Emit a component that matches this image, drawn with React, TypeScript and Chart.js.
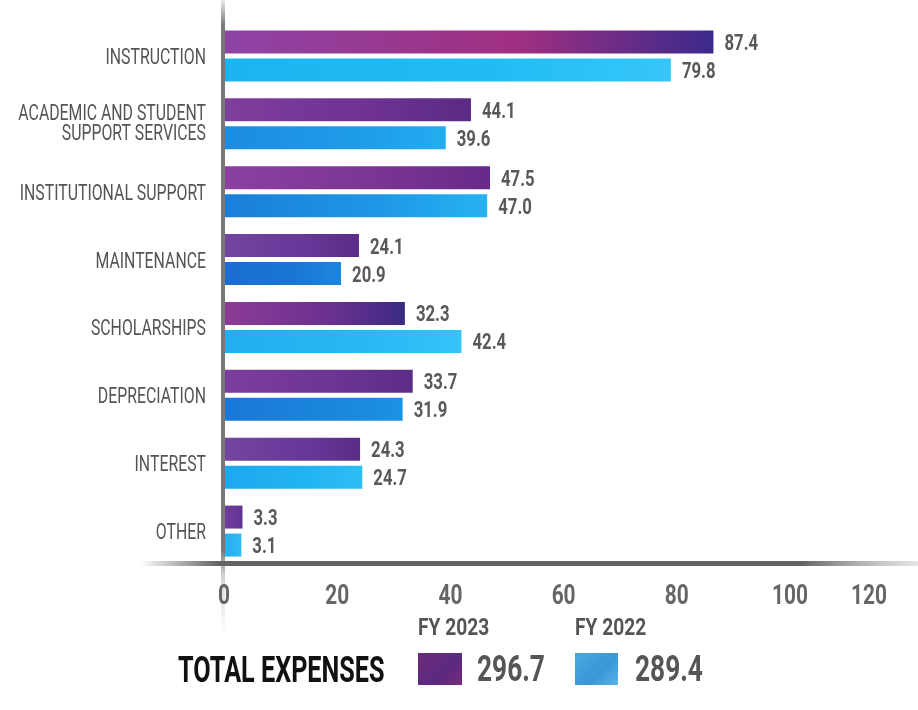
import React, { useEffect, useRef } from "react";
import { Chart, registerables } from "chart.js";

Chart.register(...registerables);

const categories: string[][] = [
  ["INSTRUCTION"],
  ["ACADEMIC AND STUDENT", "SUPPORT SERVICES"],
  ["INSTITUTIONAL SUPPORT"],
  ["MAINTENANCE"],
  ["SCHOLARSHIPS"],
  ["DEPRECIATION"],
  ["INTEREST"],
  ["OTHER"],
];
const fy2023 = [87.4, 44.1, 47.5, 24.1, 32.3, 33.7, 24.3, 3.3];
const fy2022 = [79.8, 39.6, 47.0, 20.9, 42.4, 31.9, 24.7, 3.1];
const xTicks = [0, 20, 40, 60, 80, 100, 120];
const totalLabel = "TOTAL EXPENSES";
const total2023 = "296.7";
const total2022 = "289.4";
const seriesNames = ["FY 2023", "FY 2022"];

const FONT = "Roboto, 'Liberation Sans', sans-serif";

const purpleStops: string[][] = [
  ["#8e44a6", "#a02f80", "#3b2a8c"],
  ["#7e3e9e", "#6e3292", "#5a2a84"],
  ["#8c40a2", "#7a3492", "#662a8a"],
  ["#7444a2", "#683898", "#5a2c88"],
  ["#8c3c96", "#6a3090", "#3a2a82"],
  ["#7c3e9e", "#6c3494", "#5c2c88"],
  ["#7444a2", "#683898", "#5a2c88"],
  ["#6e3c9c", "#6a3898", "#5e3090"],
];
const blueStops: string[][] = [
  ["#1cb4f0", "#22bcf4", "#36c6f8"],
  ["#1c8ce0", "#1e9ce8", "#24acf0"],
  ["#1a7ed8", "#1e98e6", "#26b2f2"],
  ["#1a6ed0", "#1a76d4", "#1c86dc"],
  ["#22aef0", "#28b8f4", "#34c4f8"],
  ["#1a78d6", "#1a86dc", "#1c92e2"],
  ["#1ca8ee", "#22b4f2", "#2ebef6"],
  ["#26b0f0", "#2ab6f2", "#30bcf4"],
];

function makeBg(stops: string[][], values: number[]) {
  return (ctx: any) => {
    const chart = ctx.chart;
    const ca = chart.chartArea;
    const i = ctx.dataIndex ?? 0;
    const s = stops[i % stops.length];
    if (!ca || !chart.scales.x) return s[1];
    const end = chart.scales.x.getPixelForValue(values[i]);
    const g = chart.ctx.createLinearGradient(ca.left, 0, Math.max(end, ca.left + 1), 0);
    g.addColorStop(0, s[0]);
    g.addColorStop(0.6, s[1]);
    g.addColorStop(1, s[2]);
    return g;
  };
}

function fillCond(ctx: CanvasRenderingContext2D, text: string, x: number, y: number, sx: number, align: CanvasTextAlign) {
  ctx.save();
  ctx.translate(x, y);
  ctx.scale(sx, 1);
  ctx.textAlign = align;
  ctx.textBaseline = "alphabetic";
  ctx.fillText(text, 0, 0);
  ctx.restore();
}

const decorPlugin = {
  id: "decor",
  afterDraw(chart: any) {
    const { ctx, chartArea: ca, scales } = chart;
    const x = scales.x;
    const y = scales.y;
    ctx.save();
    // vertical axis line
    const vx = x.getPixelForValue(0) - 1;
    const vg = ctx.createLinearGradient(0, 0, 0, 640);
    vg.addColorStop(0, "rgba(120,120,120,0.15)");
    vg.addColorStop(0.04, "rgba(120,120,120,1)");
    vg.addColorStop(0.86, "rgba(120,120,120,1)");
    vg.addColorStop(0.9, "rgba(200,200,200,0.8)");
    vg.addColorStop(1, "rgba(230,230,230,0)");
    ctx.fillStyle = vg;
    ctx.fillRect(vx - 2, 0, 4, 640);
    // horizontal axis line
    const hy = ca.bottom - 2;
    const hg = ctx.createLinearGradient(140, 0, 918, 0);
    hg.addColorStop(0, "rgba(100,100,100,0)");
    hg.addColorStop(0.1, "rgba(100,100,100,1)");
    hg.addColorStop(0.85, "rgba(100,100,100,1)");
    hg.addColorStop(1, "rgba(170,170,170,0.3)");
    ctx.fillStyle = hg;
    ctx.fillRect(140, hy - 2, 778, 5);

    // category labels
    ctx.font = `22px ${FONT}`;
    ctx.fillStyle = "#555555";
    categories.forEach((lines, i) => {
      const cy = y.getPixelForTick(i);
      if (lines.length === 1) {
        fillCond(ctx, lines[0], 206, cy + 8, 0.72, "right");
      } else {
        fillCond(ctx, lines[0], 206, cy - 3.5, 0.72, "right");
        fillCond(ctx, lines[1], 206, cy + 16, 0.72, "right");
      }
    });

    // tick labels
    ctx.font = `bold 28px ${FONT}`;
    ctx.fillStyle = "#666666";
    xTicks.forEach((t, k) => {
      let px = x.getPixelForValue(t);
      if (k === xTicks.length - 1) px -= 27;
      else px += t * 0.06;
      fillCond(ctx, String(t), px, ca.bottom + 39, 0.745, "center");
    });

    // value labels
    ctx.font = `bold 22px ${FONT}`;
    ctx.fillStyle = "#595959";
    chart.data.datasets.forEach((ds: any, di: number) => {
      const meta = chart.getDatasetMeta(di);
      meta.data.forEach((bar: any, i: number) => {
        fillCond(ctx, Number(ds.data[i]).toFixed(1), bar.x + 11, bar.y + 8, 0.76, "left");
      });
    });
    ctx.restore();
  },
};

export default function App() {
  const ref = useRef<HTMLCanvasElement | null>(null);
  useEffect(() => {
    if (!ref.current) return;
    const chart = new Chart(ref.current, {
      type: "bar",
      data: {
        labels: categories.map((c) => c.join(" ")),
        datasets: [
          {
            label: seriesNames[0],
            data: fy2023,
            backgroundColor: makeBg(purpleStops, fy2023) as any,
            barPercentage: 0.82,
            categoryPercentage: 0.825,
          },
          {
            label: seriesNames[1],
            data: fy2022,
            backgroundColor: makeBg(blueStops, fy2022) as any,
            barPercentage: 0.82,
            categoryPercentage: 0.825,
          },
        ],
      },
      options: {
        indexAxis: "y",
        responsive: false,
        animation: false,
        devicePixelRatio: 1,
        layout: { padding: { top: 22, bottom: 145, right: 22, left: 0 } },
        plugins: { legend: { display: false }, tooltip: { enabled: false } },
        scales: {
          x: {
            min: 0,
            max: 120,
            display: false,
          },
          y: {
            grid: { display: false },
            border: { display: false },
            ticks: { display: false },
            afterFit: (s: any) => {
              s.width = 224;
            },
          },
        },
      },
      plugins: [decorPlugin],
    });
    return () => chart.destroy();
  }, []);

  const legendText = (left: number, top: number, size: number, sx: number, color: string): React.CSSProperties => ({
    position: "absolute",
    left,
    top,
    fontFamily: FONT,
    fontWeight: "bold",
    fontSize: size,
    color,
    whiteSpace: "nowrap",
    lineHeight: 1,
    transform: `scaleX(${sx})`,
    transformOrigin: "left top",
  });

  return (
    <div style={{ position: "fixed", left: 0, top: 0, width: 918, height: 710, background: "#fff" }}>
      <canvas ref={ref} width={918} height={710} style={{ width: 918, height: 710, display: "block" }} />
      <div style={legendText(418, 615, 24, 0.8, "#555555")}>{seriesNames[0]}</div>
      <div style={legendText(575, 615, 24, 0.8, "#555555")}>{seriesNames[1]}</div>
      <div style={legendText(178, 652, 36, 0.7, "#111111")}>{totalLabel}</div>
      <div style={{ position: "absolute", left: 418, top: 653, width: 44, height: 32, background: "linear-gradient(135deg, #6e2a7a, #5a2a80 60%, #7a2a78)" }} />
      <div style={legendText(477, 650, 37, 0.71, "#555555")}>{total2023}</div>
      <div style={{ position: "absolute", left: 575, top: 653, width: 43, height: 32, background: "linear-gradient(135deg, #4aa8e0, #3a96d8 60%, #5cb4e6)" }} />
      <div style={legendText(635, 650, 37, 0.71, "#555555")}>{total2022}</div>
    </div>
  );
}
